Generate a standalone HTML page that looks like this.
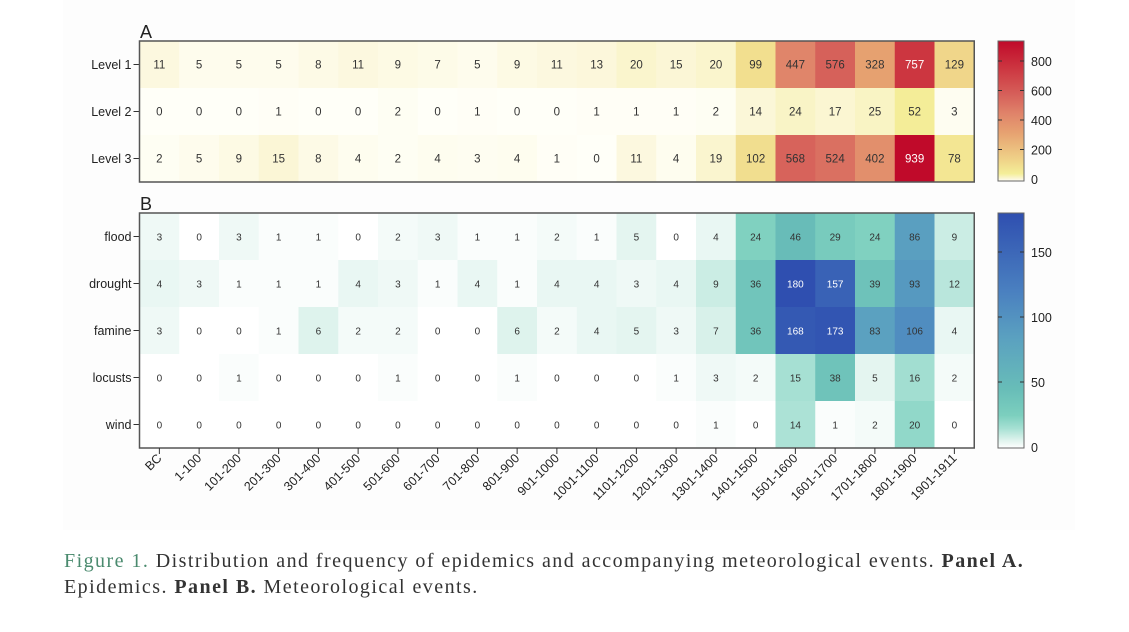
<!DOCTYPE html>
<html><head><meta charset="utf-8"><style>
body{margin:0;background:#fff;width:1129px;height:632px;overflow:hidden}
.cap{position:absolute;left:64px;top:548px;font-family:"Liberation Serif",serif;font-size:20px;letter-spacing:1.45px;line-height:26px;color:#333;white-space:nowrap}
</style></head><body>
<div style="position:absolute;left:63px;top:0;width:1012px;height:530px;background:#fdfdfd"></div>
<svg id="s" width="1129" height="632" style="position:absolute;left:0;top:0" font-family="Liberation Sans, sans-serif"></svg>
<div class="cap"><span style="color:#4a8a6e">Figure 1.</span> Distribution and frequency of epidemics and accompanying meteorological events. <b>Panel A.</b><br>Epidemics. <b>Panel B.</b> Meteorological events.</div>
<script>
const A=[[11,5,5,5,8,11,9,7,5,9,11,13,20,15,20,99,447,576,328,757,129],
[0,0,0,1,0,0,2,0,1,0,0,1,1,1,2,14,24,17,25,52,3],
[2,5,9,15,8,4,2,4,3,4,1,0,11,4,19,102,568,524,402,939,78]];
const B=[[3,0,3,1,1,0,2,3,1,1,2,1,5,0,4,24,46,29,24,86,9],
[4,3,1,1,1,4,3,1,4,1,4,4,3,4,9,36,180,157,39,93,12],
[3,0,0,1,6,2,2,0,0,6,2,4,5,3,7,36,168,173,83,106,4],
[0,0,1,0,0,0,1,0,0,1,0,0,0,1,3,2,15,38,5,16,2],
[0,0,0,0,0,0,0,0,0,0,0,0,0,0,1,0,14,1,2,20,0]];
const XL=["BC","1-100","101-200","201-300","301-400","401-500","501-600","601-700","701-800","801-900","901-1000","1001-1100","1101-1200","1201-1300","1301-1400","1401-1500","1501-1600","1601-1700","1701-1800","1801-1900","1901-1911"];
const SA=[[0,"#fffff8"],[15,"#fbf6d6"],[50,"#f4ee98"],[130,"#f0d68a"],[330,"#e6a070"],[450,"#e0846a"],[580,"#d6605a"],[760,"#cc3540"],[940,"#c00a2a"]];
const SB=[[0,"#ffffff"],[5,"#e4f5f0"],[15,"#a6e0d3"],[25,"#7ccfbe"],[45,"#68bdb8"],[85,"#5aa0c0"],[120,"#4a80c0"],[180,"#2f4fb0"]];
function h(c){return [1,3,5].map(i=>parseInt(c.substr(i,2),16))}
function col(v,S){for(let i=1;i<S.length;i++){if(v<=S[i][0]){const t=(v-S[i-1][0])/(S[i][0]-S[i-1][0]);const a=h(S[i-1][1]),b=h(S[i][1]);return "rgb("+a.map((x,k)=>Math.round(x+(b[k]-x)*t)).join(",")+")"}}return S[S.length-1][1]}
let o="";const x0=139.5,cw=39.75,rh=47;
function panel(D,y0,S,labels,fs,wt){
 D.forEach((r,i)=>r.forEach((v,j)=>{const x=x0+j*cw,y=y0+i*rh;
  o+=`<rect x="${x}" y="${y}" width="${cw+0.5}" height="${rh+0.5}" fill="${col(v,S)}"/>`;
  o+=`<text x="${x+cw/2}" y="${y+rh/2+4}" font-size="${fs}" text-anchor="middle" fill="${v>=wt?'#fff':'#333'}">${v}</text>`;}));
 labels.forEach((l,i)=>{const y=y0+i*rh+rh/2;o+=`<text x="${x0-8}" y="${y+4.5}" font-size="12.5" text-anchor="end" fill="#222">${l}</text><line x1="${x0-6}" x2="${x0}" y1="${y}" y2="${y}" stroke="#333"/>`});
 o+=`<rect x="${x0}" y="${y0}" width="${cw*21}" height="${rh*D.length}" fill="none" stroke="#555" stroke-width="1.5"/>`;
}
panel(A,41,SA,["Level 1","Level 2","Level 3"],11.5,700);
panel(B,213,SB,["flood","drought","famine","locusts","wind"],10,150);
o+=`<text x="140" y="38" font-size="18" fill="#222">A</text><text x="140" y="210" font-size="18" fill="#222">B</text>`;
XL.forEach((l,j)=>{const x=x0+j*cw+cw/2;o+=`<line x1="${x}" x2="${x}" y1="448" y2="454" stroke="#333"/><text transform="translate(${x+3},${459}) rotate(-45)" font-size="12.5" text-anchor="end" fill="#222">${l}</text>`});
let g='<defs><linearGradient id="ga" x1="0" y1="1" x2="0" y2="0">';SA.forEach(s=>g+=`<stop offset="${s[0]/940}" stop-color="${s[1]}"/>`);g+='</linearGradient><linearGradient id="gb" x1="0" y1="1" x2="0" y2="0">';SB.forEach(s=>g+=`<stop offset="${s[0]/180}" stop-color="${s[1]}"/>`);g+='</linearGradient></defs>';
o=g+o;
o+=`<rect x="998" y="41" width="26" height="140" fill="url(#ga)" stroke="#666"/>`;
[0,200,400,600,800].forEach(v=>{const y=179-v*0.1475;o+=`<text x="1031" y="${y+5}" font-size="12.5" fill="#222">${v}</text>`;if(v)o+=`<line x1="998" x2="1002" y1="${y}" y2="${y}" stroke="#333"/><line x1="1020" x2="1024" y1="${y}" y2="${y}" stroke="#333"/>`});
o+=`<rect x="998" y="213" width="26" height="235" fill="url(#gb)" stroke="#666"/>`;
[0,50,100,150].forEach(v=>{const y=447-v*1.3;o+=`<text x="1031" y="${y+5}" font-size="12.5" fill="#222">${v}</text>`;if(v)o+=`<line x1="998" x2="1002" y1="${y}" y2="${y}" stroke="#333"/><line x1="1020" x2="1024" y1="${y}" y2="${y}" stroke="#333"/>`});
document.getElementById("s").innerHTML=o;
</script>
</body></html>
